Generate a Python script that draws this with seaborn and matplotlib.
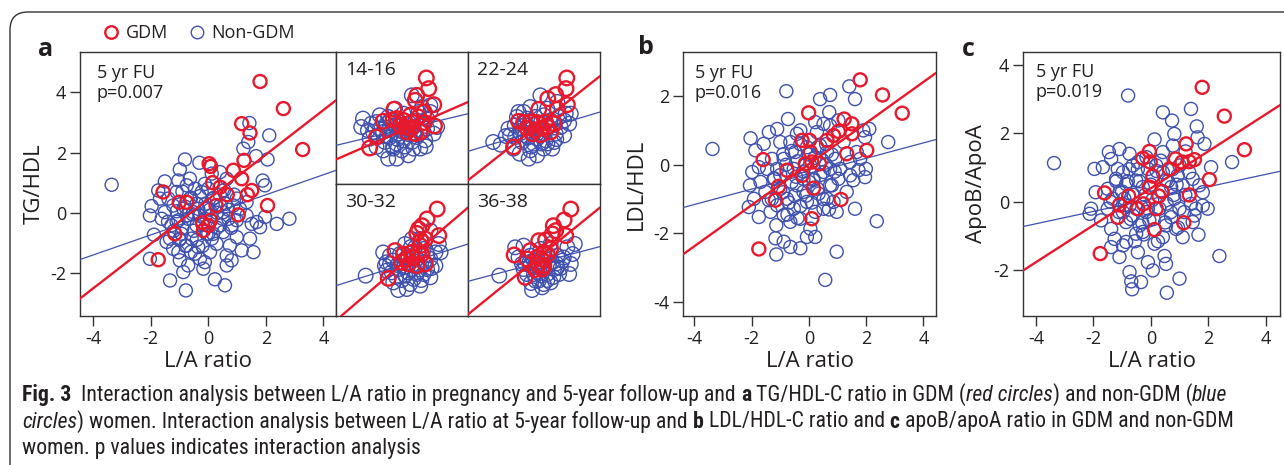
import numpy as np
import pandas as pd
import matplotlib
matplotlib.use("Agg")
import matplotlib.pyplot as plt
import seaborn as sns
from matplotlib.lines import Line2D
from matplotlib.patches import FancyBboxPatch
from matplotlib import font_manager

sns.set_theme(style="ticks")
plt.rcParams['font.family'] = ['Open Sans', 'DejaVu Sans']
plt.rcParams['axes.unicode_minus'] = False

BLUE = "#3F51AE"
RED = "#E8192C"
INK = "#231F20"

# ---------------- data ----------------
# Panel a: TG/HDL vs L/A ratio, 5 yr follow-up
a_gdm = [(1.80, 4.36), (2.61, 3.46), (1.16, 2.96), (1.45, 2.65), (3.28, 2.10), (0.03, 1.63),
         (0.08, 1.54), (1.24, 1.74), (0.87, 1.41), (1.16, 1.13), (0.15, 1.00), (0.41, 0.85),
         (1.51, 0.74), (1.36, 0.60), (0.66, 0.60), (-1.57, 0.69), (-1.01, 0.35), (-0.75, 0.35),
         (0.27, 0.24), (2.06, 0.24), (1.04, -0.07), (-0.20, -0.33), (0.00, -0.42), (0.08, -0.25),
         (-0.17, -0.59), (-1.16, -0.70), (-1.74, -1.56)]
a_non = [(-3.36, 0.93), (1.43, 2.98), (2.12, 2.57), (1.39, 2.35), (1.22, 2.13), (1.66, 1.88),
         (2.06, 1.77), (-0.81, 1.77), (-0.31, 1.66), (-0.99, 1.44), (-1.51, 1.04), (-1.04, 1.07),
         (-1.74, 0.74), (1.89, 1.07), (1.97, 0.91), (-1.97, 0.22), (-2.03, -0.09), (2.82, -0.20),
         (2.38, -0.37), (1.97, -0.14), (1.80, -0.48), (1.51, -0.37), (1.45, -0.86), (1.57, -1.31),
         (1.16, -1.25), (0.64, -1.42), (-2.03, -1.53), (-1.89, -0.73), (-1.33, -2.25), (-0.78, -2.58),
         (0.23, -2.21), (0.58, -2.41), (-0.12, -1.64), (-0.70, -1.75), (-0.99, -1.58), (-1.22, -1.20),
         (-1.45, -0.97), (-0.46, -1.36), (0.29, -1.03), (0.75, -1.09), (0.99, -0.81), (0.52, -0.64),
         (0.70, -0.20), (1.10, 0.13), (0.99, 0.47), (0.64, 1.13), (0.41, 1.35), (0.12, 1.30),
         (-0.12, 0.96), (-0.46, 0.80), (-0.64, 0.47), (-0.35, 0.13), (-0.75, -0.09), (-1.04, -0.25),
         (-1.28, -0.42), (-0.93, -0.70), (-0.58, -0.86), (-0.35, -1.14), (0.06, -1.31), (0.17, -0.70),
         (0.41, -0.42), (0.81, -0.42), (0.99, -0.25), (-0.41, -0.42), (-0.87, 0.13), (-1.22, 0.24),
         (-1.51, 0.02), (-1.62, -0.20), (0.17, 0.47), (0.41, 0.24), (-0.06, 0.13), (0.52, 0.02),
         (0.87, 0.24), (-0.23, 0.69), (-1.68, 0.47), (-1.39, 0.47), (-1.10, 0.69), (-0.75, 0.91),
         (-0.64, 1.13), (-0.99, -0.86), (-1.33, -0.86), (-0.75, -1.09), (-1.04, -1.31), (-0.29, -1.53),
         (-0.17, -1.86), (-0.87, -1.97), (0.64, -1.75), (0.81, -1.58), (-0.06, -0.70), (0.12, -0.86),
         (-0.12, -0.20), (-0.52, 0.02), (1.33, 0.35), (1.68, -0.31), (1.33, -0.09),
         (-1.10, -0.30), (-0.90, -0.50), (-0.70, -0.20), (-0.50, -0.60), (-0.30, -0.10), (-0.10, 0.30),
         (0.10, -0.10), (0.30, 0.00), (0.50, -0.20), (0.70, 0.10), (-0.80, 0.20), (-0.60, 0.50),
         (-0.40, 0.30), (-0.20, -0.40), (0.00, -0.70), (0.20, 0.50), (0.40, 0.60), (0.60, 0.30),
         (0.80, -0.50), (-1.00, -0.90), (-0.80, -1.10), (-0.60, -1.30), (-0.40, -0.90), (-0.20, -1.10),
         (0.00, 0.80), (0.30, -0.50), (-1.20, -0.60), (-1.40, -0.30), (0.90, 0.60), (-0.90, 0.70),
         (-0.55, -0.05), (0.05, 0.10), (-0.30, 0.55), (0.55, 0.75), (-1.10, 0.05)]
a_fit_gdm = (0.74, 0.45)     # slope, intercept
a_fit_non = (0.333, -0.07)

# Panel b: LDL/HDL vs L/A ratio
b_gdm = [(1.79, 2.47), (2.57, 2.03), (3.26, 1.50), (-0.01, 1.51), (1.23, 1.33), (1.50, 1.19),
         (1.03, 0.97), (0.86, 0.85), (1.50, 0.90), (-0.24, 0.71), (0.02, 0.71), (0.63, 0.71),
         (2.02, 0.42), (1.32, 0.32), (0.05, 0.37), (-1.60, 0.15), (0.10, 0.08), (-0.13, 0.03),
         (0.37, 0.03), (-0.77, -0.16), (-0.24, -0.31), (-1.06, -0.63), (0.16, -0.68), (1.12, -1.01),
         (-1.17, -1.03), (0.10, -1.57), (-1.75, -2.45)]
b_non = [(-3.37, 0.46), (-0.79, 2.14), (1.41, 2.28), (1.61, 1.91), (0.74, 2.03), (0.39, 1.91),
         (-0.73, 1.33), (0.71, 1.53), (-2.04, 0.77), (-1.40, 0.95), (-1.00, 0.66), (-1.58, 0.61),
         (-1.87, 0.42), (-1.75, -0.07), (-1.98, -0.21), (-2.06, -0.60), (-2.10, -1.23), (-1.75, -1.52),
         (-1.34, -1.37), (-1.14, -1.76), (-1.17, -2.14), (-0.88, -2.24), (-0.65, -2.39), (-0.30, -2.43),
         (-0.07, -2.10), (0.22, -2.10), (-1.14, -2.61), (0.97, -2.53), (0.57, -3.35), (2.37, -1.64),
         (1.61, -1.28), (1.96, -0.36), (1.99, -0.12), (1.73, -0.16), (1.55, -0.45), (1.79, 0.17),
         (1.90, 1.00), (2.11, 1.04), (2.77, 0.66), (1.96, 0.80), (1.32, -0.79), (0.97, -1.37),
         (0.51, -1.28), (0.63, -0.99), (0.74, -0.60), (1.03, -0.41), (1.09, -0.12), (0.92, 0.17),
         (0.63, 0.37), (0.39, 0.56), (0.28, 0.95), (0.22, 1.24), (0.51, 1.19), (0.74, 1.14),
         (1.03, 1.29), (-0.42, 0.90), (-0.65, 0.66), (-0.48, 0.37), (-0.88, 0.17), (-1.29, 0.17),
         (-1.46, -0.12), (-1.23, -0.41), (-1.00, -0.70), (-0.77, -0.99), (-0.53, -1.28), (-0.30, -1.57),
         (-0.65, -1.66), (-0.88, -1.47), (-1.11, -1.18), (-1.52, -0.79), (-1.69, -0.50), (-0.19, -0.79),
         (-0.42, -0.60), (-0.07, -1.08), (0.22, -1.37), (-0.19, -0.41), (-0.53, -0.12), (-1.11, -0.12),
         (0.51, -0.21), (0.74, -0.12), (1.44, -0.31), (1.44, 0.08), (1.67, 0.37), (1.21, 0.66),
         (-1.11, 1.04), (-0.30, 1.00), (-0.07, 0.51), (0.16, -0.41), (0.34, -0.84), (0.86, -1.08),
         (0.05, -1.86), (-1.40, -1.03), (-1.92, -0.99),
         (-1.00, -0.30), (-0.80, 0.00), (-0.60, -0.50), (-0.40, 0.10), (-0.20, -0.20), (0.00, -0.50),
         (0.20, 0.20), (0.40, -0.30), (0.60, 0.00), (0.80, -0.60), (-0.90, -0.80), (-0.70, -1.10),
         (-0.50, -0.90), (-0.30, -1.20), (-0.10, -0.90), (0.10, -1.10), (0.30, -0.70), (0.50, -1.00),
         (-0.60, 0.40), (-0.30, 0.60), (0.00, 0.30), (0.30, 0.50), (0.60, 0.60), (0.80, 0.30),
         (-1.20, -0.40), (-0.90, 0.30), (-0.10, 0.00), (0.15, -0.45), (-0.45, -0.35), (0.45, 0.15),
         (-0.75, -1.45), (-0.40, -1.55), (0.70, -1.30), (-1.30, -1.00), (0.90, -0.20)]
b_fit_gdm = (0.597, 0.02)
b_fit_non = (0.224, -0.26)

# Panel c: ApoB/ApoA vs L/A ratio
c_gdm = [(1.79, 3.34), (2.56, 2.50), (3.26, 1.52), (1.23, 1.69), (-0.05, 1.47), (-0.28, 1.27),
         (0.86, 1.25), (1.09, 1.16), (1.34, 1.17), (1.52, 1.23), (-0.02, 1.16), (0.65, 0.96),
         (0.07, 0.75), (2.04, 0.65), (-0.05, 0.43), (0.39, 0.30), (-1.61, 0.26), (1.34, 0.20),
         (0.28, 0.17), (-0.77, 0.17), (0.19, -0.20), (-0.45, -0.20), (-1.09, -0.09), (-1.15, -0.45),
         (-0.26, -0.06), (1.15, -0.61), (0.13, -0.81), (-1.76, -1.51)]
c_non = [(-3.37, 1.13), (-0.79, 3.10), (0.42, 2.61), (0.74, 2.37), (1.40, 2.71), (1.60, 2.20),
         (0.82, 1.98), (0.13, 1.82), (1.63, 1.88), (1.87, 1.69), (1.21, 1.47), (2.10, 1.01),
         (2.83, 1.16), (2.39, -1.58), (1.98, -0.20), (1.66, -0.96), (1.00, -2.24), (0.56, -2.65),
         (-0.65, -2.55), (-0.68, -2.32), (-0.34, -2.34), (0.07, -2.00), (0.53, -1.81), (0.48, -1.58),
         (-0.10, -1.76), (-0.74, -2.05), (-1.09, -1.61), (-1.38, -1.32), (-0.97, -1.27), (-0.45, -1.47),
         (-1.46, 1.45), (-1.09, 1.54), (-0.74, 1.40), (-1.96, 0.96), (-1.67, 1.01), (-2.13, -0.35),
         (-2.08, -0.20), (-1.73, -0.54), (-1.92, 0.28), (-1.21, 0.67), (-0.97, 0.86), (-0.63, 1.06),
         (-1.32, 0.09), (-1.50, -0.20), (-0.97, -0.30), (-0.86, -0.59), (-1.38, -0.79), (-0.51, -0.93),
         (-0.39, -0.69), (-0.63, -0.40), (-0.28, 0.43), (-0.51, 0.62), (-0.86, 0.52), (-1.09, 0.28),
         (0.42, 0.86), (0.53, 0.62), (0.71, 0.43), (0.82, 0.09), (1.00, -0.20), (0.71, -0.45),
         (0.88, -0.79), (0.53, -0.69), (0.42, -1.03), (1.11, -1.03), (1.52, -0.40), (1.57, -0.20),
         (1.40, -0.06), (1.69, 0.48), (1.46, 0.67), (1.81, 0.28), (1.11, 0.48), (0.77, 1.64),
         (0.42, 1.45), (0.94, 0.77), (0.19, 1.06), (-0.10, 0.96), (-0.45, 1.16), (-1.15, 0.96),
         (-1.38, 1.25), (-0.92, 0.09), (-0.74, -0.11), (-0.16, -0.30), (-0.05, -0.54), (-0.28, -0.88),
         (0.13, -1.22), (-1.26, -1.08), (-0.86, -1.17), (-1.50, 0.38), (1.00, 1.06), (1.34, 0.86),
         (1.81, -0.11), (1.46, -0.59), (1.17, -0.30),
         (-1.00, 0.30), (-0.80, 0.60), (-0.60, 0.20), (-0.40, 0.60), (-0.20, 0.20), (0.00, 0.50),
         (0.20, 0.90), (0.40, 0.30), (0.60, 0.60), (0.80, 0.20), (-0.90, -0.10), (-0.70, -0.50),
         (-0.50, -0.20), (-0.30, -0.60), (-0.10, -0.20), (0.10, -0.50), (0.30, -0.20), (0.50, -0.60),
         (0.70, -0.30), (0.90, 0.50), (-1.20, 0.60), (-1.10, -0.30), (-0.75, 0.95), (-0.45, 0.95),
         (0.05, 0.05), (0.55, -0.05), (-0.25, -0.95), (0.25, -1.15), (-0.55, -1.15), (0.95, -0.75),
         (1.20, 0.20), (-1.40, 0.00), (0.35, 1.20), (-0.15, 1.30), (0.75, 0.95)]
c_fit_gdm = (0.539, 0.395)
c_fit_non = (0.18, 0.08)

# Inset panels: L/A ratio in pregnancy (gestational weeks), TG/HDL
w14_gdm = [(1.64, 2.67), (1.80, 1.96), (1.00, 1.51), (0.89, 1.18), (2.14, 0.89), (1.50, 0.40),
           (-0.54, 0.58), (-1.27, -0.22), (-0.36, -0.04), (0.10, -0.16), (0.66, -0.27), (0.32, -0.93),
           (0.89, -1.04), (1.23, -0.93), (2.19, -0.53), (-1.72, -1.27), (-2.18, -2.00), (-0.13, -0.49),
           (0.55, 0.18), (1.12, 0.07), (0.20, -0.60), (0.60, -0.70), (-0.60, -0.10), (1.50, -0.30)]
w14_non = [(-2.63, -0.04), (-2.75, -0.60), (-2.18, -1.38), (-1.72, -1.93), (-0.93, -2.71), (-0.36, -2.71),
           (0.43, -2.49), (1.23, -2.04), (2.14, -1.04), (2.37, -0.60), (1.91, 0.40), (1.35, 0.73),
           (0.66, 1.51), (-0.47, 0.62), (-1.50, 0.18), (-2.07, -0.38), (-1.95, -0.93), (-1.27, -0.93),
           (-0.81, -1.27), (-0.36, -1.71), (0.10, -1.49), (0.66, -1.60), (-1.15, -1.60), (-1.50, -0.71),
           (-1.04, -0.38), (-0.70, -0.82), (-0.25, -1.04), (0.21, -0.71), (0.78, -0.60), (1.35, -0.38),
           (1.69, -0.04), (1.12, 0.40), (0.10, 0.29), (-0.93, 0.07), (-1.72, -0.27), (-0.59, -2.04),
           (-0.02, -2.16), (0.78, -2.04), (1.57, -1.49), (1.00, -1.27), (-1.27, -2.16), (-2.30, -0.82),
           (1.91, 0.84), (1.69, -0.71), (-0.81, -0.16),
           (-0.50, -0.50), (0.00, -0.90), (0.50, -1.10), (-1.00, -1.20), (-0.30, -1.40), (0.30, -0.40),
           (0.80, -1.00), (-0.80, -0.60), (0.20, -1.90), (-0.60, -1.90), (1.40, -0.90), (-1.60, -1.20),
           (0.90, -0.20), (-0.10, -0.30), (1.60, -1.90)]
w14_fit_gdm = (0.43, -0.85)
w14_fit_non = (0.237, -0.77)

w22_gdm = [(2.21, 2.67), (2.16, 1.96), (1.46, 1.56), (0.93, 1.29), (2.25, 0.89), (1.57, 0.58),
           (0.32, 0.58), (-1.04, -0.22), (-0.25, -0.27), (0.21, -0.31), (0.78, -0.27), (1.35, -0.38),
           (-0.13, -1.04), (0.44, -1.11), (1.12, -0.93), (-1.38, -1.93), (0.55, -0.67), (-0.47, -0.67),
           (0.10, -0.80), (0.90, -0.60), (-0.70, -0.30)]
w22_non = [(-2.75, -1.60), (-2.25, -1.78), (-1.61, -1.16), (-1.72, -0.71), (-1.15, 0.07), (-0.70, 0.40),
           (-0.25, 0.73), (0.43, 1.51), (1.57, 1.07), (2.14, 0.29), (2.48, 0.29), (2.37, -0.38),
           (2.03, -1.16), (1.35, -1.60), (0.66, -2.04), (0.21, -2.49), (-0.36, -2.71), (-0.97, -2.38),
           (-1.38, -2.04), (-0.81, -1.60), (-0.02, -1.71), (0.78, -1.49), (1.46, -1.04), (1.80, -0.60),
           (1.12, -0.16), (0.66, 0.18), (0.10, 0.07), (-0.47, -0.04), (-0.93, -0.71), (-1.27, -1.27),
           (-0.59, -1.16), (0.21, -1.38), (1.23, -2.04), (-0.25, -2.16), (2.03, -0.16), (0.89, 0.62),
           (0.44, -0.71), (-0.13, -0.71), (1.69, 0.07), (-1.04, 0.40),
           (-0.40, -1.30), (0.10, -0.90), (0.60, -1.00), (-0.90, -1.00), (0.30, -0.30), (1.00, -0.60),
           (-0.20, -1.90), (0.50, -1.70), (1.50, -1.40), (-1.30, -0.50), (0.90, -1.70), (-0.60, -0.30),
           (1.30, -0.10), (-1.90, -1.20)]
w22_fit_gdm = (0.78, -0.68)
w22_fit_non = (0.294, -0.91)

w30_gdm = [(2.37, 2.73), (1.69, 2.07), (1.35, 1.62), (1.12, 1.40), (1.00, 1.11), (2.48, 0.96),
           (1.57, 0.73), (1.23, 0.29), (-0.47, -0.04), (0.10, -0.27), (0.66, -0.16), (1.35, -0.27),
           (0.44, -0.93), (1.00, -1.04), (1.57, -0.93), (-0.93, -1.89), (-0.02, -0.82),
           (0.70, -0.50), (1.10, -0.20), (0.30, -0.60), (1.30, 0.60)]
w30_non = [(-2.45, -1.71), (-1.27, -0.16), (-1.04, -0.82), (-0.70, -1.49), (-0.25, -2.67), (0.32, -2.60),
           (1.23, -2.38), (1.91, -1.82), (2.25, -1.04), (2.60, -0.16), (2.48, 0.40), (1.91, 1.29),
           (1.23, 0.73), (0.66, 0.73), (0.21, 0.40), (-0.59, -0.71), (-0.25, -1.27), (0.21, -1.71),
           (0.78, -1.93), (1.46, -1.60), (1.91, -0.60), (1.46, 0.07), (0.89, 0.18), (-1.04, -1.38),
           (-0.59, -2.16), (0.66, -1.27), (-0.13, -0.27), (-0.81, -0.38), (1.69, -1.27), (2.25, -0.16),
           (0.44, -0.49), (1.00, -0.60), (0.10, -1.16), (-1.15, -1.04), (0.55, -2.27),
           (0.20, -0.60), (0.70, -1.00), (1.20, -1.30), (-0.30, -1.00), (0.40, -1.50), (1.50, -0.80),
           (-0.80, -0.90), (0.00, -2.00), (1.00, -1.60), (1.70, -0.30), (0.60, 0.20), (-0.40, -1.80),
           (1.30, -2.00), (2.00, -1.20)]
w30_fit_gdm = (0.845, -0.93)
w30_fit_non = (0.312, -0.99)

w36_gdm = [(2.48, 2.73), (2.03, 2.00), (1.30, 1.62), (1.46, 1.29), (1.23, 1.07), (2.14, 0.96),
           (0.32, 0.62), (0.78, 0.67), (-0.25, -0.04), (-1.34, -0.33), (-0.59, -1.82), (0.66, -0.16),
           (0.21, -0.49), (1.12, 0.07), (0.66, -1.04), (0.55, -1.27), (-0.47, -0.60),
           (0.30, -1.00), (0.50, -0.60), (0.90, -0.30), (0.10, -1.30)]
w36_non = [(-2.34, -1.71), (-1.27, 0.18), (-0.70, 0.29), (-1.04, -0.49), (-0.25, -1.04), (-0.47, -1.60),
           (-0.13, -2.67), (0.55, -2.49), (1.12, -2.16), (1.69, -1.60), (2.37, -1.60), (2.60, -0.27),
           (2.75, 0.40), (2.25, 0.18), (1.57, -0.38), (1.23, -0.82), (0.21, -1.49), (0.32, -2.04),
           (0.89, -1.60), (1.35, -1.27), (-0.02, -0.71), (0.44, 0.07), (0.78, -0.60), (-0.81, -0.93),
           (0.10, -2.04), (1.57, -1.16), (1.91, -0.71), (-0.25, -0.38), (1.12, 0.40), (-0.70, -1.27),
           (0.66, -2.27), (2.48, -0.93), (0.21, -1.04),
           (0.20, -0.80), (0.60, -1.20), (1.00, -1.00), (-0.30, -0.80), (0.50, -1.70), (1.50, -0.90),
           (-0.60, -0.90), (0.00, -1.60), (0.90, -2.00), (1.80, -1.20), (0.70, -0.20), (-0.20, -2.20),
           (1.30, -1.80), (2.00, -0.50)]
w36_fit_gdm = (0.80, -0.73)
w36_fit_non = (0.26, -0.93)

inset_labels = ["14-16", "22-24", "30-32", "36-38"]
x_ticks = [-4, -2, 0, 2, 4]
a_yticks = [-2, 0, 2, 4]
b_yticks = [-4, -2, 0, 2]
c_yticks = [-2, 0, 2, 4]

# ---------------- figure ----------------
W, H = 1284, 465
fig = plt.figure(figsize=(W / 100, H / 100), dpi=100)
fig.patch.set_facecolor("white")


def px_axes(x0, y0, x1, y1):
    return fig.add_axes([x0 / W, 1 - y1 / H, (x1 - x0) / W, (y1 - y0) / H])


def draw(ax, non, gdm, fit_non, fit_gdm, s=88, lw_pt=1.0, lw_pt_red=1.7, lw_line=0.9, lw_line_red=1.7):
    dn = pd.DataFrame(non, columns=["x", "y"])
    dg = pd.DataFrame(gdm, columns=["x", "y"])
    sns.scatterplot(data=dn, x="x", y="y", ax=ax, s=s, color=BLUE, facecolor="none",
                    edgecolor=BLUE, linewidth=lw_pt, legend=False, zorder=2)
    sns.scatterplot(data=dg, x="x", y="y", ax=ax, s=s, color=RED, facecolor="none",
                    edgecolor=RED, linewidth=lw_pt_red, legend=False, zorder=4)
    ax.axline((0, fit_non[1]), slope=fit_non[0], color=BLUE, lw=lw_line, zorder=3)
    ax.axline((0, fit_gdm[1]), slope=fit_gdm[0], color=RED, lw=lw_line_red, zorder=5)
    ax.set_xlabel("")
    ax.set_ylabel("")
    for sp in ax.spines.values():
        sp.set_visible(True)
        sp.set_linewidth(1.0)
        sp.set_color("#333333")


def style_main(ax, xlim, ylim, yticks, ylabel):
    ax.set_xlim(*xlim)
    ax.set_ylim(*ylim)
    ax.set_xticks(x_ticks)
    ax.set_yticks(yticks)
    ax.tick_params(axis="both", direction="out", length=7, width=1.0, labelsize=13,
                   colors="#333333", labelcolor=INK, pad=3)
    ax.set_xlabel("L/A ratio", fontsize=16, color=INK, labelpad=2)
    ax.set_ylabel(ylabel, fontsize=16, color=INK, labelpad=4)


# panel a
ax_a = px_axes(80, 52, 336, 316)
draw(ax_a, a_non, a_gdm, a_fit_non, a_fit_gdm)
style_main(ax_a, (-4.46, 4.44), (-3.43, 5.34), a_yticks, "TG/HDL")
ax_a.text(0.065, 0.955, "5 yr FU\np=0.007", transform=ax_a.transAxes, ha="left", va="top",
          fontsize=13, color=INK, linespacing=1.15)

# insets
inset_boxes = [(336, 52, 468, 184), (468, 52, 600, 184), (336, 184, 468, 316), (468, 184, 600, 316)]
inset_data = [(w14_non, w14_gdm, w14_fit_non, w14_fit_gdm), (w22_non, w22_gdm, w22_fit_non, w22_fit_gdm),
              (w30_non, w30_gdm, w30_fit_non, w30_fit_gdm), (w36_non, w36_gdm, w36_fit_non, w36_fit_gdm)]
for box, dat, lab in zip(inset_boxes, inset_data, inset_labels):
    ax = px_axes(*box)
    draw(ax, dat[0], dat[1], dat[2], dat[3], s=110)
    ax.set_xlim(-4.45, 4.45)
    ax.set_ylim(-4.4, 4.4)
    ax.set_xticks([])
    ax.set_yticks([])
    ax.text(0.07, 0.935, lab, transform=ax.transAxes, ha="left", va="top", fontsize=14, color=INK)

# panel b
ax_b = px_axes(683, 52, 936, 316)
draw(ax_b, b_non, b_gdm, b_fit_non, b_fit_gdm)
style_main(ax_b, (-4.4, 4.44), (-4.4, 3.28), b_yticks, "LDL/HDL")
ax_b.text(0.047, 0.955, "5 yr FU\np=0.016", transform=ax_b.transAxes, ha="left", va="top",
          fontsize=13, color=INK, linespacing=1.15)

# panel c
ax_c = px_axes(1023, 52, 1280, 316)
draw(ax_c, c_non, c_gdm, c_fit_non, c_fit_gdm)
style_main(ax_c, (-4.45, 4.5), (-3.33, 4.37), c_yticks, "ApoB/ApoA")
ax_c.text(0.05, 0.96, "5 yr FU\np=0.019", transform=ax_c.transAxes, ha="left", va="top",
          fontsize=13, color=INK, linespacing=1.15)

# panel letters
for lab, (px, py) in zip(["a", "b", "c"], [(38, 50), (638, 47), (962, 50)]):
    fig.text(px / W, 1 - py / H, lab, fontsize=18, fontweight="bold", color=INK, ha="left", va="center")

# legend
handles = [Line2D([], [], ls="none", marker="o", ms=9, mfc="none", mec=RED, mew=1.7),
           Line2D([], [], ls="none", marker="o", ms=9, mfc="none", mec=BLUE, mew=1.0)]
fig.legend(handles, ["GDM", "Non-GDM"], loc="center left", bbox_to_anchor=(104 / W, 1 - 33 / H),
           ncol=2, frameon=False, fontsize=13, handlelength=0.8, handletextpad=0.4,
           columnspacing=1.2, borderaxespad=0, borderpad=0, labelcolor=INK)

# outer frame
frame = FancyBboxPatch((0.10, -0.6), 14.0, (H - 12) / 100 + 0.6,
                       boxstyle="round,pad=0,rounding_size=0.18",
                       transform=fig.dpi_scale_trans, fill=False, ec="#333333", lw=1.0, zorder=0)
fig.patches.append(frame)

# caption
cap_lines = [
    [("Fig. 3", "bold", "normal"), ("  Interaction analysis between L/A ratio in pregnancy and 5-year follow-up and ", "normal", "normal"),
     ("a", "bold", "normal"), (" TG/HDL-C ratio in GDM (", "normal", "normal"), ("red circles", "normal", "italic"),
     (") and non-GDM (", "normal", "normal"), ("blue", "normal", "italic")],
    [("circles", "normal", "italic"), (") women. Interaction analysis between L/A ratio at 5-year follow-up and ", "normal", "normal"),
     ("b", "bold", "normal"), (" LDL/HDL-C ratio and ", "normal", "normal"), ("c", "bold", "normal"),
     (" apoB/apoA ratio in GDM and non-GDM", "normal", "normal")],
    [("women. p values indicates interaction analysis", "normal", "normal")],
]
cap_y = [395, 422, 448]
installed = {f.name for f in font_manager.fontManager.ttflist}
cap_family = [f for f in ["Liberation Sans Narrow", "Roboto Condensed", "Open Sans Condensed",
                          "DejaVu Sans Condensed"] if f in installed] + ["DejaVu Sans"]
renderer = fig.canvas.get_renderer()


def line_width(segs, fs):
    total = 0
    for txt, wt, st in segs:
        t = fig.text(0, 0, txt, fontsize=fs, fontweight=wt, fontstyle=st, family=cap_family)
        total += t.get_window_extent(renderer).width
        t.remove()
    return total


fs_cap = 12.0
w1 = line_width(cap_lines[0], fs_cap)
fs_cap = fs_cap * (1208 / w1)
for segs, yy in zip(cap_lines, cap_y):
    x = 22.0
    for txt, wt, st in segs:
        t = fig.text(x / W, 1 - yy / H, txt, fontsize=fs_cap, fontweight=wt, fontstyle=st,
                     family=cap_family, color=INK, ha="left", va="center")
        x += t.get_window_extent(renderer).width

fig.savefig("out.png", dpi=100, facecolor="white")
